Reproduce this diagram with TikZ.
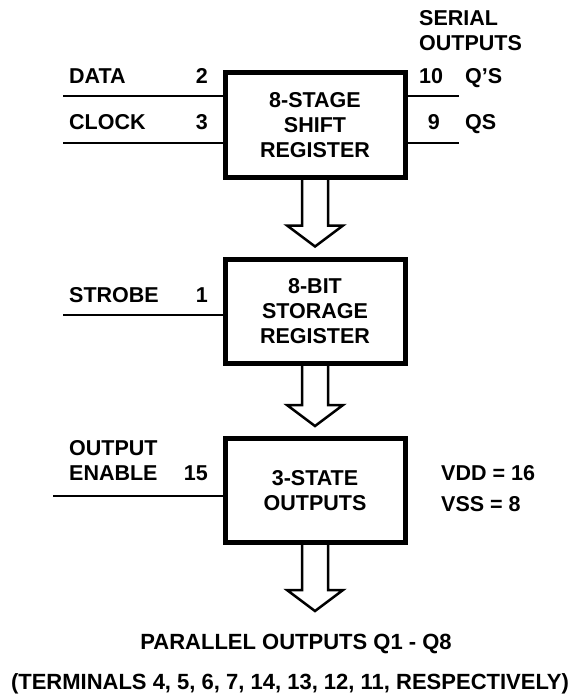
\documentclass[tikz,border=0pt]{standalone}
\usepackage{fontspec}
\setmainfont{Liberation Sans}
\usetikzlibrary{calc}

\newcommand{\hollowarrow}[2]{%
  \draw[hollow] ($(#1)+(-13,0)$) -- ($(#2)+(-13,-21)$) -- ($(#2)+(-28,-21)$)
    -- (#2) -- ($(#2)+(28,-21)$) -- ($(#2)+(13,-21)$) -- ($(#1)+(13,0)$);}

\begin{document}
\begin{tikzpicture}[x=1pt,y=-1pt,
    font=\fontsize{21.5}{25}\selectfont\bfseries,
    block/.style={draw,line width=5pt,minimum width=180pt,minimum height=104pt,
      inner sep=0pt,align=center},
    wire/.style={line width=2.7pt},
    hollow/.style={line width=2.5pt},
    lbl/.style={inner sep=0pt,anchor=base west},
    pin/.style={inner sep=0pt,anchor=base east},
    caption/.style={inner sep=0pt,anchor=base,font=\fontsize{22}{26}\selectfont\bfseries}]
  \useasboundingbox (0,0) rectangle (577,695);
  \node[block] (sr) at (315,125) {8-STAGE\\SHIFT\\REGISTER};
  \node[block] (st) at (315,311) {8-BIT\\STORAGE\\REGISTER};
  \node[block] (tri) at (315,490.5) {3-STATE\\OUTPUTS};
  \coordinate (datain) at (63,96);
  \coordinate (clkin) at (63,143);
  \coordinate (qsbarout) at (459,96);
  \coordinate (qsout) at (459,143);
  \coordinate (strobein) at (63,315);
  \coordinate (oein) at (53,496);
  \draw[wire] (datain) -- (datain -| sr.west);
  \draw[wire] (clkin) -- (clkin -| sr.west);
  \draw[wire] (qsbarout -| sr.east) -- (qsbarout);
  \draw[wire] (qsout -| sr.east) -- (qsout);
  \draw[wire] (strobein) -- (strobein -| st.west);
  \draw[wire] (oein) -- (oein -| tri.west);
  \node[lbl] (datalbl) at (69,83.5) {DATA};
  \node[pin] (datapin) at (208,83.5) {2};
  \node[lbl] (clklbl) at (69,130) {CLOCK};
  \node[pin] (clkpin) at (208,130) {3};
  \node[lbl] (serial) at (419,25.5) {SERIAL};
  \node[lbl] (serialb) at (419,50.5) {OUTPUTS};
  \node[lbl] (qsbarpin) at (419,83.5) {10};
  \node[lbl] (qsbarlbl) at (465,83.5) {Q’S};
  \node[pin] (qspin) at (440,130) {9};
  \node[lbl] (qslbl) at (465,130) {QS};
  \node[lbl] (strobelbl) at (69,302) {STROBE};
  \node[pin] (strobepin) at (208,302) {1};
  \node[lbl] (oelbl) at (69,455.5) {OUTPUT};
  \node[lbl] (oelblb) at (69,480.5) {ENABLE};
  \node[pin] (oepin) at (208,480.5) {15};
  \node[lbl] (vdd) at (441,480.5) {VDD = 16};
  \node[lbl] (vss) at (441,511.5) {VSS = 8};
  \node[caption] (par) at (296,649.5) {PARALLEL OUTPUTS Q1 - Q8};
  \node[caption] (terms) at (290,689) {(TERMINALS 4, 5, 6, 7, 14, 13, 12, 11, RESPECTIVELY)};
  \coordinate (tip1) at ($(st.north)+(0,-10)$);
  \coordinate (tip2) at ($(tri.north)+(0,-10)$);
  \coordinate (tip3) at (315,611);
  \hollowarrow{sr.south}{tip1}
  \hollowarrow{st.south}{tip2}
  \hollowarrow{tri.south}{tip3}
\end{tikzpicture}
\end{document}
